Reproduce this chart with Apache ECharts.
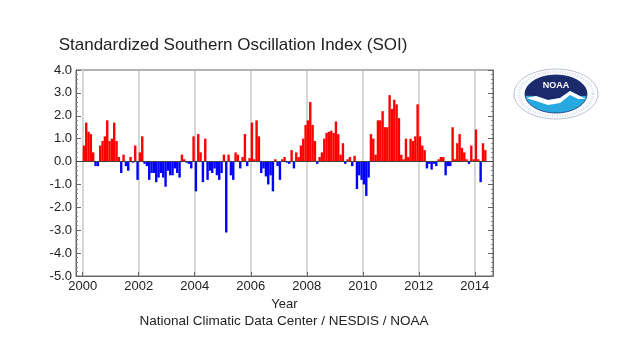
<!DOCTYPE html>
<html><head><meta charset="utf-8">
<script src="https://cdn.jsdelivr.net/npm/echarts@6/dist/echarts.min.js"></script>
<style>html,body{margin:0;padding:0;background:#ffffff}#c{width:640px;height:348px}</style>
</head><body><div id="c"></div>
<script>
// Monthly standardized SOI values, Jan 2000 - May 2014
const firstYear = 2000;
const soi2000 = [0.7, 1.7, 1.3, 1.2, 0.4, -0.2, -0.2, 0.7, 0.9, 1.1, 1.8, 0.9];
const soi2001 = [1.0, 1.7, 0.9, 0.2, -0.5, 0.3, -0.2, -0.4, 0.2, -0.05, 0.7, -0.8];
const soi2002 = [0.4, 1.1, -0.1, -0.2, -0.8, -0.5, -0.5, -0.9, -0.7, -0.5, -0.7, -1.1];
const soi2003 = [-0.4, -0.6, -0.6, -0.3, -0.5, -0.7, 0.3, 0.1, -0.05, -0.1, -0.3, 1.1];
const soi2004 = [-1.3, 1.2, 0.4, -0.9, 1.0, -0.8, -0.4, -0.5, -0.3, -0.6, -0.8, -0.5];
const soi2005 = [0.3, -3.1, 0.3, -0.6, -0.8, 0.4, 0.3, -0.3, 0.2, 1.2, -0.2, 0.15];
const soi2006 = [1.7, 0.1, 1.8, 1.1, -0.5, -0.3, -0.65, -1.0, -0.6, -1.3, 0.1, -0.2];
const soi2007 = [-0.8, 0.1, 0.2, -0.05, -0.1, 0.5, -0.3, 0.4, 0.2, 0.7, 1.0, 1.6];
const soi2008 = [1.8, 2.6, 1.6, 0.9, -0.1, 0.2, 0.4, 1.0, 1.25, 1.3, 1.35, 1.25];
const soi2009 = [1.75, 1.2, 0.3, 0.8, -0.1, 0.1, 0.2, -0.2, 0.25, -1.2, -0.6, -0.8];
const soi2010 = [-1.0, -1.5, -0.7, 1.2, 1.0, 0.3, 1.8, 1.8, 2.2, 1.5, 1.5, 2.9];
const soi2011 = [2.3, 2.7, 2.5, 1.9, 0.3, 0.1, 1.0, 0.2, 1.0, 0.9, 1.1, 2.5];
const soi2012 = [1.1, 0.7, 0.5, -0.3, -0.1, -0.35, -0.1, -0.2, 0.1, 0.2, 0.2, -0.6];
const soi2013 = [-0.2, -0.2, 1.5, 0.1, 0.8, 1.2, 0.6, 0.4, 0.1, -0.1, 0.7, 0.1];
const soi2014 = [1.4, 0.1, -0.9, 0.8, 0.5];

const xTickYears = [2000, 2002, 2004, 2006, 2008, 2010, 2012, 2014];
const yTickLabels = ['-5.0', '-4.0', '-3.0', '-2.0', '-1.0', '0.0', '1.0', '2.0', '3.0', '4.0'];

const soiAll = [].concat(soi2000, soi2001, soi2002, soi2003, soi2004, soi2005, soi2006,
  soi2007, soi2008, soi2009, soi2010, soi2011, soi2012, soi2013, soi2014);
const barData = soiAll.map((v, i) => [firstYear + (i + 0.5) / 12, v]);

const FONT = '"Liberation Sans", Arial, Helvetica, sans-serif';

// NOAA logo shapes (decorative)
function ellipsePts(cx, cy, rx, ry, a0, a1, n) {
  const p = [];
  for (let k = 0; k <= n; k++) {
    const a = a0 + (a1 - a0) * k / n;
    p.push([cx + rx * Math.cos(a), cy + ry * Math.sin(a)]);
  }
  return p;
}
const LX = 556, LY = 94;
const logoOuter = ellipsePts(LX, LY, 42, 25, 0, 2 * Math.PI, 80);
const logoInner = ellipsePts(LX, LY, 31, 19, 0, 2 * Math.PI, 80);
const navy = ellipsePts(LX, LY, 31, 19, Math.PI * 0.97, Math.PI * 2.03, 50)
  .concat([[LX + 24, LY + 2], [LX + 14, LY - 3], [LX + 4, LY + 4], [LX - 8, LY + 6], [LX - 20, LY + 2]]);
const wave = [[LX - 30, LY + 4], [LX - 20, LY + 2], [LX - 8, LY + 6], [LX + 4, LY + 4], [LX + 14, LY - 3], [LX + 24, LY + 2], [LX + 30, LY + 5],
  [LX + 22, LY + 5], [LX + 14, LY + 1], [LX + 4, LY + 9], [LX - 8, LY + 11], [LX - 20, LY + 7]];

const chart = echarts.init(document.getElementById('c'), null, {renderer: 'canvas'});
chart.setOption({
  backgroundColor: '#ffffff',
  animation: false,
  grid: {left: 76, right: 147, top: 70, bottom: 72, show: true, borderColor: '#666', borderWidth: 1, backgroundColor: 'transparent'},
  xAxis: {
    type: 'value', min: 1999.76, max: 2014.65,
    name: 'Year', nameLocation: 'middle', nameGap: 16,
    nameTextStyle: {fontFamily: FONT, fontSize: 13, color: '#222'},
    axisLine: {show: true, onZero: false, lineStyle: {color: '#666'}},
    axisTick: {show: true, inside: true, length: 4, customValues: xTickYears, lineStyle: {color: '#666'}},
    axisLabel: {customValues: xTickYears, formatter: v => String(Math.round(v)), fontFamily: FONT, fontSize: 13, color: '#222', margin: 4},
    splitLine: {show: true, lineStyle: {color: '#c8c8c8', width: 1.5}},
    minorTick: {show: false}
  },
  yAxis: [{
    type: 'value', min: -5, max: 4, interval: 1,
    axisLine: {show: true, lineStyle: {color: '#666'}},
    axisTick: {show: true, inside: true, length: 5, lineStyle: {color: '#666'}},
    minorTick: {show: true, splitNumber: 5, length: 2, lineStyle: {color: '#888'}},
    axisLabel: {formatter: v => yTickLabels[Math.round(v) + 5], fontFamily: FONT, fontSize: 13, color: '#222', margin: 4},
    splitLine: {show: false}
  }, {
    type: 'value', min: -5, max: 4, interval: 1, position: 'right',
    axisLine: {show: true, lineStyle: {color: '#666'}},
    axisTick: {show: true, inside: true, length: 5, lineStyle: {color: '#666'}},
    minorTick: {show: true, splitNumber: 5, length: 2, lineStyle: {color: '#888'}},
    axisLabel: {show: false},
    splitLine: {show: false}
  }],
  series: [{
    type: 'bar',
    data: barData,
    barWidth: 2.4,
    itemStyle: {color: p => (p.value[1] >= 0 ? '#ff0000' : '#0000ff')},
    markLine: {
      silent: true, symbol: 'none', label: {show: false},
      lineStyle: {color: '#444', width: 1, type: 'solid'},
      data: [{yAxis: 0}]
    }
  }],
  graphic: [
    {type: 'text', style: {text: 'Standardized Southern Oscillation Index (SOI)', x: 233, y: 45, align: 'center', verticalAlign: 'middle', font: '17px ' + FONT, fill: '#222'}},
    {type: 'text', style: {text: 'National Climatic Data Center / NESDIS / NOAA', x: 284, y: 321, align: 'center', verticalAlign: 'middle', font: '13.5px ' + FONT, fill: '#222'}},
    {type: 'polygon', shape: {points: logoOuter}, style: {fill: '#ffffff', stroke: '#b8c0d0', lineWidth: 1}},
    {type: 'polygon', shape: {points: ellipsePts(LX, LY, 37, 22, 0, 2 * Math.PI, 80)}, style: {fill: 'none', stroke: '#d8dde8', lineWidth: 3, lineDash: [1, 1.5]}},
    {type: 'polygon', shape: {points: logoInner}, style: {fill: '#28a8e0', stroke: '#1b2f6e', lineWidth: 0.8}},
    {type: 'polygon', shape: {points: navy}, style: {fill: '#1b2a6b'}},
    {type: 'polygon', shape: {points: wave}, style: {fill: '#ffffff'}},
    {type: 'text', style: {text: 'NOAA', x: LX, y: LY - 8, align: 'center', verticalAlign: 'middle', font: 'bold 9px ' + FONT, fill: '#ffffff'}}
  ]
});
</script>
</body></html>
